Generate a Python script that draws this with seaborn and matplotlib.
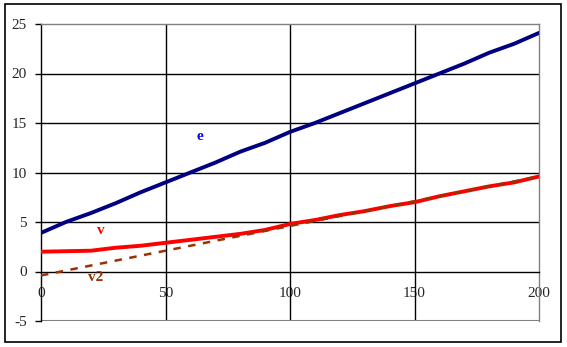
import matplotlib
matplotlib.use("Agg")
import matplotlib.pyplot as plt
import seaborn as sns
import pandas as pd
from matplotlib.patches import Rectangle

x_vals = [0, 10, 20, 30, 40, 50, 60, 70, 80, 90, 100, 110, 120, 130, 140, 150, 160, 170, 180, 190, 200]
e_vals = [3.9, 5.0, 5.9, 6.9, 8.0, 9.0, 10.0, 11.0, 12.1, 13.0, 14.1, 15.0, 16.0, 17.0, 18.0, 19.0, 20.0, 21.0, 22.1, 23.0, 24.1]
v_vals = [2.0, 2.05, 2.1, 2.4, 2.6, 2.9, 3.2, 3.5, 3.8, 4.2, 4.8, 5.2, 5.7, 6.1, 6.6, 7.0, 7.6, 8.1, 8.6, 9.0, 9.6]
v2_vals = [-0.4, 0.1, 0.6, 1.1, 1.6, 2.1, 2.6, 3.1, 3.6, 4.1, 4.6, 5.1, 5.6, 6.1, 6.6, 7.1, 7.6, 8.1, 8.6, 9.1, 9.6]
x_ticks = [0, 50, 100, 150, 200]
y_ticks = [-5, 0, 5, 10, 15, 20, 25]

df = pd.DataFrame({
    "x": x_vals * 3,
    "y": e_vals + v_vals + v2_vals,
    "s": ["e"] * len(x_vals) + ["v"] * len(x_vals) + ["v2"] * len(x_vals),
})

sns.set_style("white")
plt.rcParams["font.family"] = ["Liberation Serif", "DejaVu Serif"]
plt.rcParams["axes.unicode_minus"] = False

fig = plt.figure(figsize=(5.67, 3.47), dpi=100)
ax = fig.add_axes([41 / 567, 26 / 347, 498 / 567, 297 / 347])

palette = {"e": "#000080", "v": "#FF0000", "v2": "#993300"}
sns.lineplot(data=df, x="x", y="y", hue="s", style="s", palette=palette,
             dashes={"e": "", "v": "", "v2": (3, 3)}, legend=False, ax=ax)
for line, lw in zip(ax.get_lines(), [2.8, 2.8, 1.8]):
    line.set_linewidth(lw)
    line.set_zorder(5)

ax.set_xlim(0, 200)
ax.set_ylim(-5, 25)
ax.set_xticks(x_ticks)
ax.set_yticks(y_ticks)
ax.set_xlabel("")
ax.set_ylabel("")

for yv in [5, 10, 15, 20]:
    ax.axhline(yv, color="black", lw=1, zorder=1)
for xv in [50, 100, 150]:
    ax.axvline(xv, color="black", lw=1, zorder=1)

ax.spines["bottom"].set_position(("data", 0))
ax.spines["bottom"].set_color("black")
ax.spines["bottom"].set_linewidth(1)
ax.spines["left"].set_color("black")
ax.spines["left"].set_linewidth(1)
ax.spines["top"].set_color("#808080")
ax.spines["right"].set_color("#808080")
ax.spines["top"].set_linewidth(1)
ax.spines["right"].set_linewidth(1)
ax.axhline(-5, color="#808080", lw=1.5, zorder=1)

ax.tick_params(axis="x", length=0, pad=11, labelsize=11)
ax.tick_params(axis="y", length=4, direction="out", color="black", width=1, pad=6, labelsize=11, left=True)

ax.text(64, 13.6, "e", color="#0000FF", fontsize=11, fontweight="bold", ha="center", va="center")
ax.text(24, 4.1, "v", color="#FF0000", fontsize=11, fontweight="bold", ha="center", va="center")
ax.text(22, -0.6, "v2", color="#993300", fontsize=11, fontweight="bold", ha="center", va="center")

fig.patches.append(Rectangle((5 / 567, 5 / 347), 556 / 567, 338 / 347, transform=fig.transFigure,
                             fill=False, edgecolor="black", lw=1.2))

fig.savefig("out.png", dpi=100)
